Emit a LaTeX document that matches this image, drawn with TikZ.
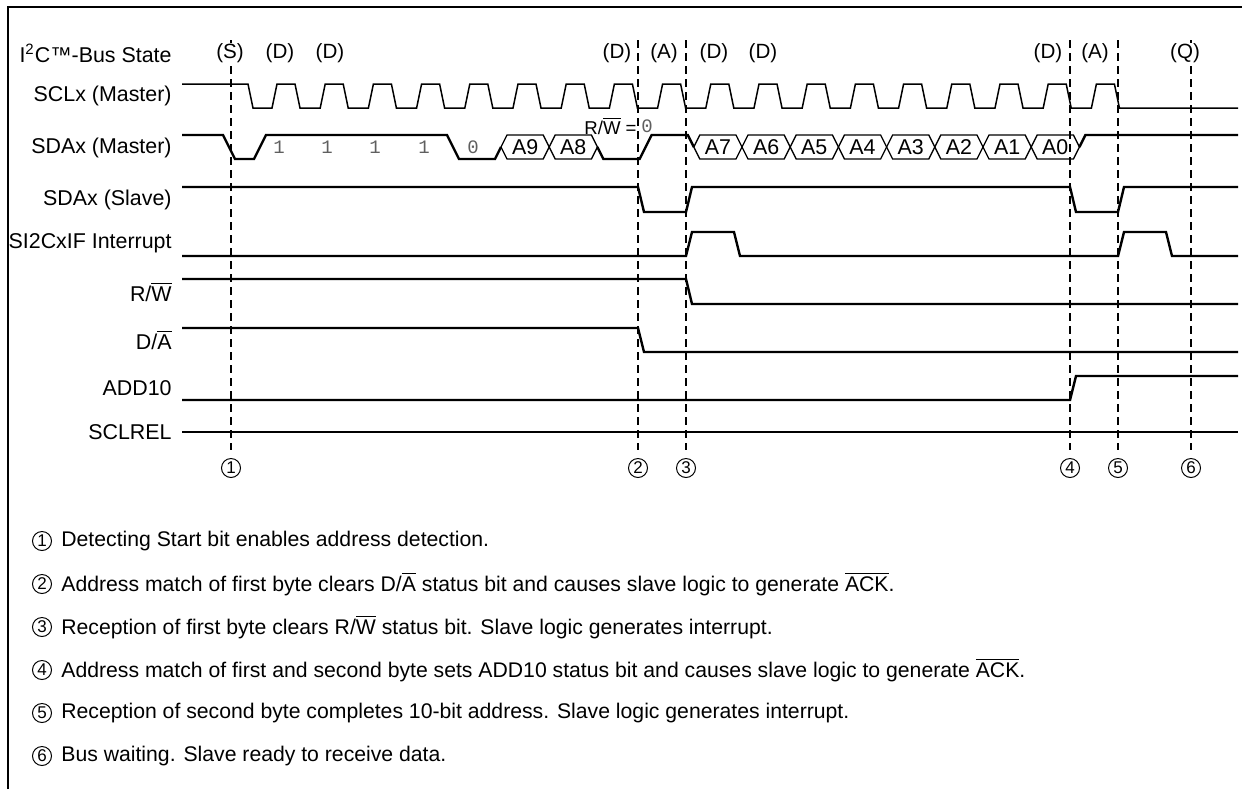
\documentclass[tikz,border=0pt]{standalone}
\usepackage{fontspec}
\setmainfont{Liberation Sans}
\setmonofont{Liberation Mono}
\usetikzlibrary{positioning,calc}
\definecolor{bitgray}{RGB}{95,95,95}
\newcommand{\ovl}[1]{$\overline{\mbox{#1}}$}

\begin{document}
\begin{tikzpicture}[
    x=0.5pt, y=-0.5pt,
    lbl/.style={anchor=east, inner sep=0pt, font=\fontsize{10.7}{12}\selectfont},
    state/.style={inner sep=0pt, font=\fontsize{10.3}{12}\selectfont},
    sig/.style={line width=1.2pt},
    clk/.style={line width=0.75pt},
    bus/.style={line width=0.65pt},
    bit/.style={inner sep=0pt, text=bitgray, font=\ttfamily\fontsize{9.5}{10}\selectfont},
    marker/.style={line width=1.3pt, dash pattern=on 4pt off 2.5pt},
    num/.style={circle, draw, line width=0.5pt, minimum size=9.5pt, inner sep=0pt, font=\fontsize{8.5}{9}\selectfont},
    note/.style={anchor=west, inner sep=0pt, font=\fontsize{10.6}{12}\selectfont}
]
    \useasboundingbox (0,0) rectangle (1242,789);

    % Frame
    \draw[line width=1pt] (8,789) -- (8,7) -- (1242,7);

    % Markers
    \foreach \n/\x in {1/231,2/638,3/686,4/1070,5/1118,6/1191} {
        \coordinate (m\n) at (\x,40);
        \coordinate (e\n) at (\x,450);
        \draw[marker] (m\n) -- (e\n);
        \node[num] (n\n) at (\x,468) {\n};
    }

    % Signal names
    \node[lbl] (bus)   at (172,53)  {I\textsuperscript{2}C\texttrademark-Bus State};
    \node[lbl] (scl)   at (172,96)  {SCLx (Master)};
    \node[lbl] (sdam)  at (172,148) {SDAx (Master)};
    \node[lbl] (sdas)  at (172,200) {SDAx (Slave)};
    \node[lbl] (irq)   at (172,243) {SI2CxIF Interrupt};
    \node[lbl] (rw)    at (172,292) {R/\ovl{W}};
    \node[lbl] (da)    at (172,340) {D/\ovl{A}};
    \node[lbl] (add)   at (172,388) {ADD10};
    \node[lbl] (rel)   at (172,432) {SCLREL};

    % Bus states
    \foreach \x/\s in {230/S,280/D,330/D,617/D,664/A,714/D,763/D,1048/D,1095/A,1185/Q}
        \node[state, fill=white] at (\x,53) {(\s)};

    % SCLx (Master)
    \draw[clk] (182,84) -- (248,84) -- (253,108)
        \foreach \k in {0,...,17} {
            -- ({272+48.2*\k},108) -- ({277+48.2*\k},84)
            -- ({295+48.2*\k},84) -- ({300+48.2*\k},108)
        } -- (1238,108);

    % SDAx (Master)
    \draw[sig] (182,135) -- (223,135) -- (235,159) -- (254,159) -- (266,135)
        -- (447,135) -- (459,159) -- (495,159) -- (501,147);
    \foreach \m/\addr in {5/A9,6/A8,9/A7,10/A6,11/A5,12/A4,13/A3,14/A2,15/A1,16/A0} {
        \pgfmathsetmacro\ca{260+48.2*\m}
        \pgfmathsetmacro\cb{\ca+48.2}
        \draw[bus] (\ca,147) -- ({\ca+6},135) -- ({\cb-6},135) -- (\cb,147)
            -- ({\cb-6},159) -- ({\ca+6},159) -- cycle;
        \node[inner sep=0pt, font=\fontsize{10.7}{12}\selectfont] (b\addr) at ({\ca+24.1},147) {\addr};
    }
    \draw[sig] (597.4,147) -- (603.4,159) -- (639.6,159) -- (651.6,135)
        -- (687.8,135) -- (693.8,147);
    \draw[sig] (1079.4,147) -- (1085.4,135) -- (1238,135);
    \foreach \x/\v in {279/1,327/1,375/1,424/1,473/0}
        \node[bit] at (\x,147) {\v};
    \node[inner sep=0pt, anchor=east, font=\fontsize{9.3}{11}\selectfont] (rwbit) at (637,126) {R/\ovl{W} =};
    \node[bit, right=2pt of rwbit] (rwval) {0};

    % SDAx (Slave)
    \draw[sig] (182,187) -- (638,187) -- (644,212) -- (686,212) -- (692,187)
        -- (1070,187) -- (1076,212) -- (1118,212) -- (1124,187) -- (1238,187);

    % SI2CxIF Interrupt
    \draw[sig] (182,256) -- (686,256) -- (692,232) -- (734,232) -- (740,256)
        -- (1118,256) -- (1124,232) -- (1166,232) -- (1172,256) -- (1238,256);

    % R/W, D/A, ADD10, SCLREL
    \draw[sig] (182,279) -- (686,279) -- (692,304) -- (1238,304);
    \draw[sig] (182,328) -- (638,328) -- (644,352) -- (1238,352);
    \draw[sig] (182,400) -- (1070,400) -- (1076,376) -- (1238,376);
    \draw[sig] (182,432) -- (1238,432);

    % Notes
    \foreach \n/\txt in {
        1/{Detecting Start bit enables address detection.},
        2/{Address match of first byte clears D/\ovl{A} status bit and causes slave logic to generate \ovl{ACK}.},
        3/{Reception of first byte clears R/\ovl{W} status bit. Slave logic generates interrupt.},
        4/{Address match of first and second byte sets ADD10 status bit and causes slave logic to generate \ovl{ACK}.},
        5/{Reception of second byte completes 10-bit address. Slave logic generates interrupt.},
        6/{Bus waiting. Slave ready to receive data.}} {
        \node[num] (k\n) at (42,{541+43*(\n-1)}) {\n};
        \node[note, right=4.5pt of k\n] (t\n) {\txt};
    }
\end{tikzpicture}
\end{document}
